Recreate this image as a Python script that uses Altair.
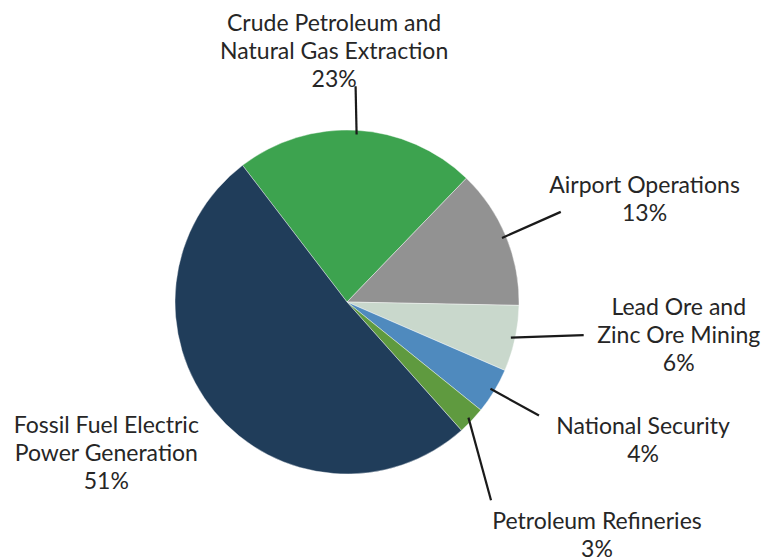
import math
import altair as alt
import pandas as pd

# ---- data ----
categories = [
    "Crude Petroleum and\nNatural Gas Extraction",
    "Airport Operations",
    "Lead Ore and\nZinc Ore Mining",
    "National Security",
    "Petroleum Refineries",
    "Fossil Fuel Electric\nPower Generation",
]
values = [22.6, 13.1, 6.2, 4.3, 2.6, 51.2]
pct_labels = ["23%", "13%", "6%", "4%", "3%", "51%"]
colors = ["#3DA34F", "#929292", "#C9D8CC", "#4F8ABE", "#5F9A3F", "#203D5A"]

# ---- layout (styling) ----
CX, CY, R = 339, 294, 172
START_DEG = -37.4
# label anchor: (angle nudge from slice middle in degrees, radius in px)
label_layout = [(-6.0, 271), (2.3, 317), (-10.0, 332), (-7.2, 324), (-1.3, 338), (11.0, 274)]
# leader end: (angle nudge, radius); None = no leader
leader_layout = [(-1.0, 216), (-0.4, 232), (-4.3, 239), (-0.6, 223), (10.4, 245), None]

total = sum(values)
rows, lab_rows, lead_rows = [], [], []
acc = 0.0
for i, (c, v, p) in enumerate(zip(categories, values, pct_labels)):
    a0 = START_DEG + 360 * acc / total
    a1 = START_DEG + 360 * (acc + v) / total
    mid = (a0 + a1) / 2
    acc += v
    rows.append({"cat": c, "value": v, "idx": i})
    na, nr = label_layout[i]
    ang = math.radians(mid + na)
    lab_rows.append({"text": c + "\n" + p,
                     "x": CX + nr * math.sin(ang),
                     "y": CY - nr * math.cos(ang)})
    if leader_layout[i] is not None:
        la, lr = leader_layout[i]
        a_s = math.radians(mid)
        a_e = math.radians(mid + la)
        rs = R * 0.975
        lead_rows.append({"x": CX + rs * math.sin(a_s), "y": CY - rs * math.cos(a_s),
                          "x2": CX + lr * math.sin(a_e), "y2": CY - lr * math.cos(a_e)})

df = pd.DataFrame(rows)
lab = pd.DataFrame(lab_rows)
lead = pd.DataFrame(lead_rows)

s = math.radians(START_DEG)
pie = alt.Chart(df).mark_arc(outerRadius=R, stroke="white", strokeWidth=0.4).encode(
    theta=alt.Theta("value:Q", stack=True, scale=alt.Scale(range=[s, s + 2 * math.pi])),
    color=alt.Color("cat:N", scale=alt.Scale(domain=categories, range=colors), legend=None),
    order=alt.Order("idx:Q"),
    x=alt.value(CX),
    y=alt.value(CY),
)

rules = alt.Chart(lead).mark_rule(color="#1A1A1A", strokeWidth=2.2).encode(
    x=alt.X("x:Q", scale=None),
    y=alt.Y("y:Q", scale=None),
    x2="x2:Q",
    y2="y2:Q",
)

texts = alt.Chart(lab).mark_text(
    font="Lato", fontSize=23, color="#262626", align="center",
    baseline="alphabetic", lineBreak="\n", lineHeight=28,
).encode(
    x=alt.X("x:Q", scale=None),
    y=alt.Y("y:Q", scale=None),
    text="text:N",
)

chart = alt.layer(pie, rules, texts).properties(
    width=758, height=549, padding=0,
    autosize=alt.AutoSizeParams(type="none"),
).configure_view(stroke=None)

chart.save("out.html", embed_options={"renderer": "svg", "actions": False})
